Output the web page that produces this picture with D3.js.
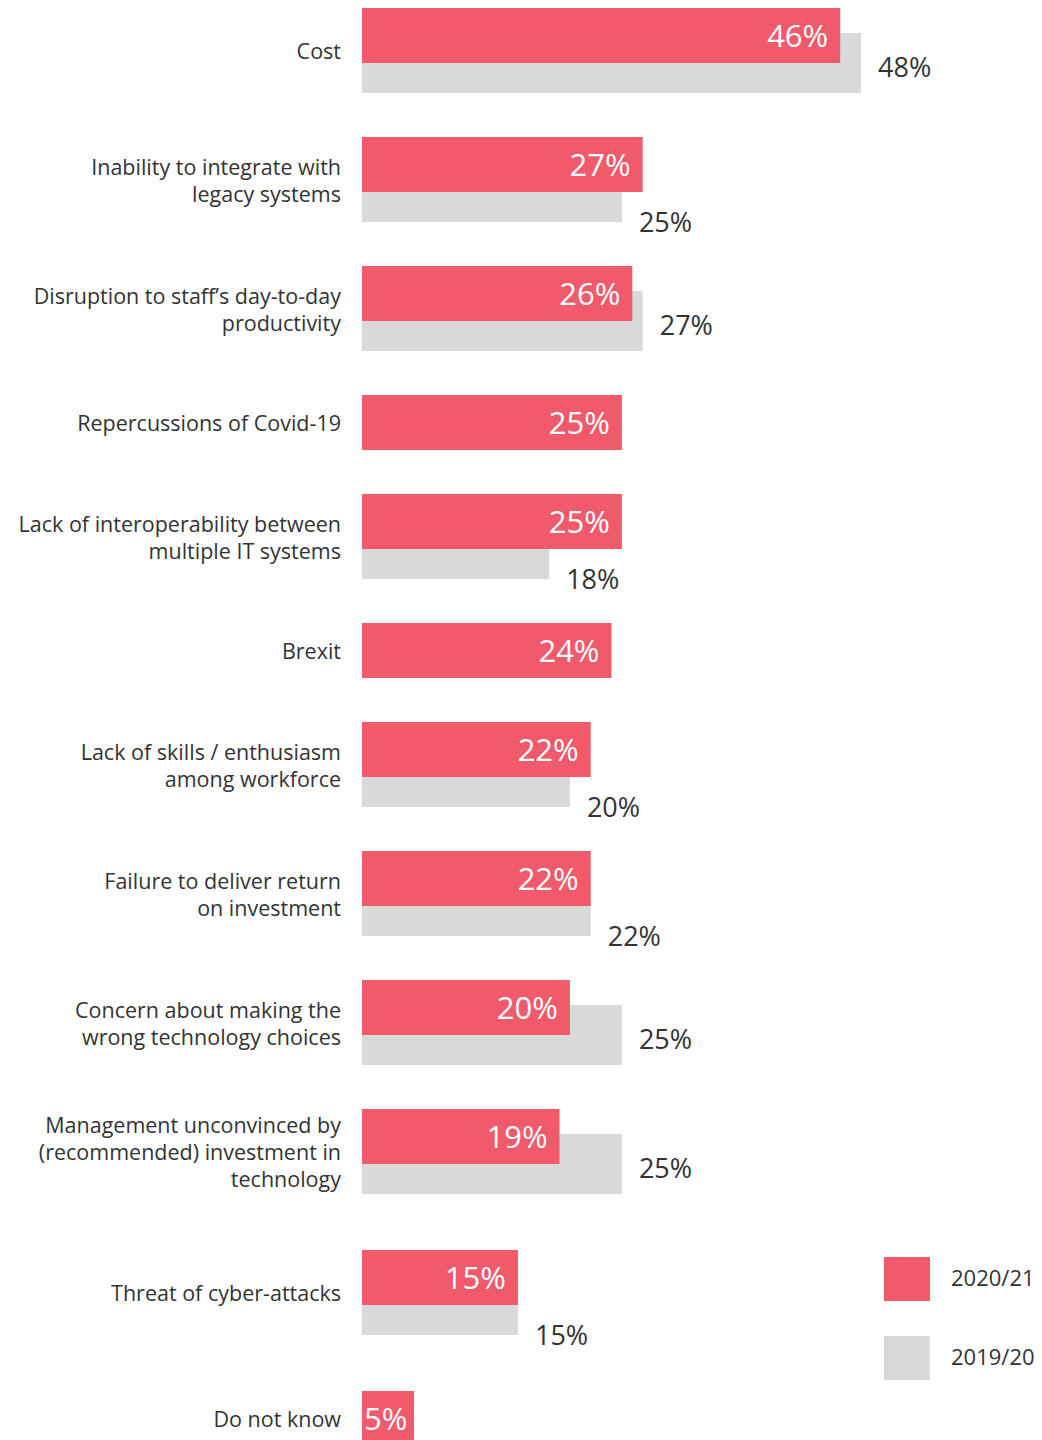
<!DOCTYPE html>
<html>
<head>
<meta charset="utf-8">
<script src="https://cdn.jsdelivr.net/npm/d3@7"></script>
<style>
  body { margin: 0; background: #fff; }
  text { font-family: "Open Sans", sans-serif; }
</style>
</head>
<body>
<script>
const width = 1042;
const height = 1440;

// Data
const categories = [
    ["Cost"],
    ["Inability to integrate with", "legacy systems"],
    ["Disruption to staff’s day-to-day", "productivity"],
    ["Repercussions of Covid-19"],
    ["Lack of interoperability between", "multiple IT systems"],
    ["Brexit"],
    ["Lack of skills / enthusiasm", "among workforce"],
    ["Failure to deliver return", "on investment"],
    ["Concern about making the", "wrong technology choices"],
    ["Management unconvinced by", "(recommended) investment in", "technology"],
    ["Threat of cyber-attacks"],
    ["Do not know"]
];
const values2021 = [46, 27, 26, 25, 25, 24, 22, 22, 20, 19, 15, 5];
const values1920 = [48, 25, 27, null, 18, null, 20, 22, 25, 25, 15, null];
const seriesNames = ["2020/21", "2019/20"];

const red = "#f05a6b";
const grey = "#d9d9d9";
const textColor = "#333";

const barLeft = 362;
const redH = 55;
const greyOffset = 25;
const greyH = 60;
const gap = 44;
const lineH = 27;

let data = categories.map((c, i) => ({
    lines: c,
    key: c.join(" "),
    cur: values2021[i],
    prev: values1920[i]
}));

// cumulative row tops: taller rows when there is a grey bar or a long label
let tops = [];
let y = 8;
data.forEach((d, i) => {
    tops.push(y);
    let barsH = d.prev != null ? greyOffset + greyH : redH;
    let labelH = d.lines.length * 27 + 16;
    y += Math.max(barsH, labelH) + gap;
    if (i === data.length - 2) y += 12;
});

const x = d3.scaleLinear().domain([0, 48]).range([barLeft, 861]);
const yPos = d3.scaleOrdinal().domain(data.map(d => d.key)).range(tops);

let svg = d3
    .select("body")
    .append("svg")
    .attr("width", width)
    .attr("height", height);

let rows = svg.selectAll("g.row")
    .data(data)
    .join("g")
    .attr("class", "row")
    .attr("transform", d => `translate(0,${yPos(d.key)})`);

// grey bars (2019/20) behind
rows.filter(d => d.prev != null)
    .append("rect")
    .attr("x", x(0))
    .attr("y", greyOffset)
    .attr("width", d => x(d.prev) - x(0))
    .attr("height", greyH)
    .attr("fill", grey);

// red bars (2020/21)
rows.append("rect")
    .attr("x", x(0))
    .attr("y", 0)
    .attr("width", d => x(d.cur) - x(0))
    .attr("height", redH)
    .attr("fill", red);

// value inside red bar
rows.append("text")
    .attr("x", d => d.cur < 8 ? x(0) + 2 : x(d.cur) - 12)
    .attr("y", redH / 2)
    .attr("dy", "0.36em")
    .attr("text-anchor", d => d.cur < 8 ? "start" : "end")
    .attr("fill", "#fff")
    .attr("font-size", 31)
    .text(d => d.cur + "%");

// value next to grey bar
rows.filter(d => d.prev != null)
    .append("text")
    .attr("x", d => x(d.prev) + 17)
    .attr("y", d => d.prev > d.cur ? greyOffset + greyH / 2 + 4 : greyOffset + greyH)
    .attr("dy", "0.36em")
    .attr("fill", textColor)
    .attr("font-size", 27)
    .text(d => d.prev + "%");

// category labels
rows.append("text")
    .attr("x", 341)
    .attr("text-anchor", "end")
    .attr("fill", textColor)
    .attr("font-size", 21.5)
    .attr("y", d => {
        let h = d.prev != null ? greyOffset + greyH : redH;
        return h / 2 - (d.lines.length - 1) * lineH / 2 + 1;
    })
    .selectAll("tspan")
    .data(d => d.lines)
    .join("tspan")
    .attr("x", 341)
    .attr("dy", (t, i) => i === 0 ? "0.36em" : lineH)
    .text(t => t);

// legend
let legend = svg.selectAll("g.legend")
    .data(seriesNames)
    .join("g")
    .attr("class", "legend")
    .attr("transform", (d, i) => `translate(884,${1257 + i * 79})`);

legend.append("rect")
    .attr("width", 46)
    .attr("height", 44)
    .attr("fill", (d, i) => i === 0 ? red : grey);

legend.append("text")
    .attr("x", 67)
    .attr("y", 21)
    .attr("dy", "0.36em")
    .attr("fill", textColor)
    .attr("font-size", 22)
    .text(d => d);
</script>
</body>
</html>
